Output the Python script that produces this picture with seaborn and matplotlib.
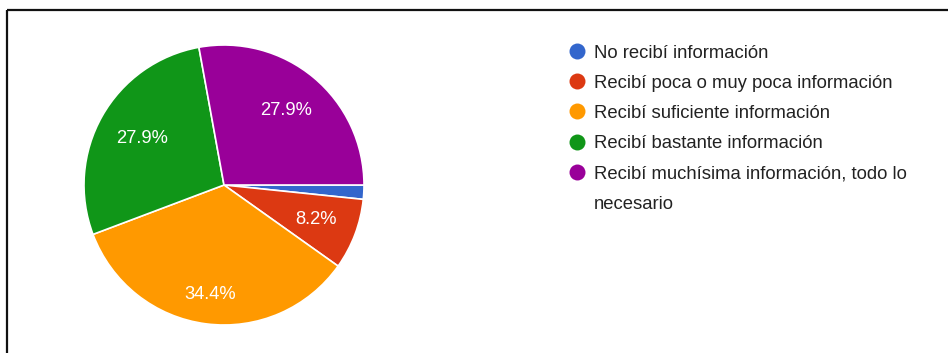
import textwrap
import numpy as np
import matplotlib
matplotlib.use("Agg")
import matplotlib.pyplot as plt
import seaborn as sns

# Survey responses (counts) and their shares
categories = [
    "No recibí información",
    "Recibí poca o muy poca información",
    "Recibí suficiente información",
    "Recibí bastante información",
    "Recibí muchísima información, todo lo necesario",
]
counts = [1, 5, 21, 17, 17]
pct_labels = ["", "8.2%", "34.4%", "27.9%", "27.9%"]
colors = ["#3366cc", "#dc3912", "#ff9900", "#109618", "#990099"]

sns.set_theme(style="white")
plt.rcParams["font.family"] = ["Liberation Sans", "DejaVu Sans"]

W, H = 948, 353
fig = plt.figure(figsize=(W / 100, H / 100), dpi=100)
fig.patch.set_facecolor("white")

# full-figure overlay in pixel units for the legend and frame lines
ov = fig.add_axes([0, 0, 1, 1])
ov.set_xlim(0, W)
ov.set_ylim(H, 0)
ov.axis("off")
ov.patch.set_alpha(0)

# pie axes: centre (224, 185), radius 140 px
cx, cy, r = 224, 185, 140
pie_ax = fig.add_axes([(cx - r) / W, (H - cy - r) / H, 2 * r / W, 2 * r / H])
wedges, _ = pie_ax.pie(
    counts,
    colors=colors,
    startangle=0,
    counterclock=False,
    radius=1,
    wedgeprops=dict(edgecolor="white", linewidth=1.2),
)
pie_ax.set_xlim(-1, 1)
pie_ax.set_ylim(-1, 1)
pie_ax.set_aspect("equal")
pie_ax.axis("off")

label_dist = [0.70, 0.70, 0.79, 0.67, 0.69]
for w, txt, d in zip(wedges, pct_labels, label_dist):
    if not txt:
        continue
    mid = np.deg2rad((w.theta1 + w.theta2) / 2)
    pie_ax.text(d * np.cos(mid), d * np.sin(mid), txt, color="white",
                fontsize=13.2, ha="center", va="center")

# legend
lx, ly0, row_h, line_h = 577, 51, 30.2, 31
y = ly0
for cat, col in zip(categories, colors):
    ov.plot([lx], [y], marker="o", markersize=11.5, color=col,
            markeredgewidth=0, linestyle="none")
    lines = textwrap.wrap(cat, 37)
    for i, line in enumerate(lines):
        ov.text(594, y + 6.5 + i * line_h, line, fontsize=13.3,
                color="#222222", ha="left", va="baseline")
    y += row_h

# frame lines along top and left edges
ov.plot([7.5, W], [9.5, 9.5], color="#111111", linewidth=1.6,
        solid_capstyle="butt")
ov.plot([7.5, 7.5], [9.5, H], color="#111111", linewidth=1.6,
        solid_capstyle="butt")

fig.savefig("out.png", dpi=100, facecolor="white")
